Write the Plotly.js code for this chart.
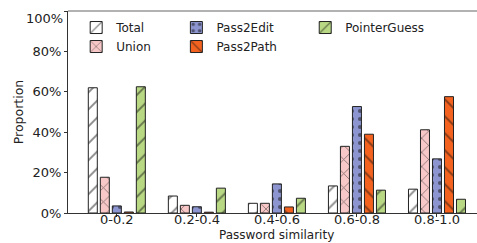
<!DOCTYPE html>
<html><head><meta charset="utf-8">
<script src="https://cdn.plot.ly/plotly-3.0.1.min.js"></script>
<style>html,body{margin:0;padding:0;background:#fff}#c{width:477px;height:243px}</style>
</head><body><div id="c"></div>
<script>
const categories = ["0-0.2", "0.2-0.4", "0.4-0.6", "0.6-0.8", "0.8-1.0"];
const total = [0.620, 0.084, 0.048, 0.134, 0.118];
const union = [0.177, 0.038, 0.048, 0.330, 0.412];
const pass2edit = [0.035, 0.031, 0.144, 0.527, 0.268];
const pass2path = [0.005, 0.004, 0.030, 0.390, 0.576];
const pointerGuess = [0.625, 0.123, 0.073, 0.113, 0.068];
const yTickVals = [0, 0.2, 0.4, 0.6, 0.8, 1.0];
const yTickText = ["0%", "20%", "40%", "60%", "80%", ""];

const font = {family: "DejaVu Sans", size: 12, color: "#222"};
function tr(name, y, color, shape, size, sol, legend, rank) {
  return {
    type: "bar", name: name, x: categories, y: y, legend: legend, legendrank: rank,
    marker: {color: color, line: {color: "#222", width: 1},
      pattern: {shape: shape, fgcolor: "#111", bgcolor: color, size: size, solidity: sol, fillmode: "overlay"}}
  };
}
const data = [
  tr("Total", total, "#ffffff", "/", 12, 0.16, "legend", 1),
  tr("Union", union, "#f8c8c8", "x", 10, 0.16, "legend", 2),
  tr("Pass2Edit", pass2edit, "#8c95cf", ".", 8, 0.22, "legend2", 1),
  tr("Pass2Path", pass2path, "#f4621f", "\\", 12, 0.16, "legend2", 2),
  tr("PointerGuess", pointerGuess, "#b8d884", "/", 12, 0.16, "legend3", 1)
];
const leg = (x) => ({x: x, y: 0.99, xanchor: "left", yanchor: "top", bgcolor: "rgba(0,0,0,0)", font: {family: "DejaVu Sans", size: 12, color: "#222"}, orientation: "v", tracegroupgap: 0});
const tickAnn = categories.map(c => ({text: c, xref: "x", yref: "paper", x: c, y: 0, xanchor: "center", yanchor: "top", yshift: 2, borderpad: 0, showarrow: false, font: {family: "DejaVu Sans", size: 13, color: "#222"}}));
const layout = {
  width: 477, height: 243,
  margin: {l: 68, r: 0, t: 11, b: 30},
  paper_bgcolor: "#fff", plot_bgcolor: "#fff",
  font: font,
  barmode: "group", bargap: 0.25, bargroupgap: 0.25,
  showlegend: true,
  legend: leg(0.02), legend2: leg(0.265), legend3: leg(0.58),
  xaxis: {type: "category", range: [-0.61, 4.5], showgrid: false, zeroline: false,
    showline: true, linecolor: "#333", linewidth: 1, ticks: "outside", ticklen: 3, tickcolor: "#333",
    showticklabels: false},
  yaxis: {range: [0, 1], showgrid: false, zeroline: false, tickvals: yTickVals, ticktext: yTickText,
    showline: true, linecolor: "#333", linewidth: 1, ticks: "outside", ticklen: 3, tickcolor: "#333",
    tickfont: {family: "DejaVu Sans", size: 13, color: "#222"},
    title: {text: "Proportion", font: {family: "DejaVu Sans", size: 12.5, color: "#222"}, standoff: 6}},
  shapes: [{type: "line", xref: "paper", yref: "paper", x0: 0, x1: 1, y0: 1, y1: 1, line: {color: "#999", width: 1.5}}],
  annotations: tickAnn.concat([
    {text: "100%", xref: "paper", yref: "paper", x: 0, y: 0.965, xanchor: "right", yanchor: "middle", xshift: -3, showarrow: false, font: {family: "DejaVu Sans", size: 13, color: "#222"}},
    {text: "Password similarity", xref: "paper", yref: "paper", x: 0.509, y: 0, xanchor: "center", yanchor: "bottom", yshift: -30, borderpad: 0, showarrow: false, font: {family: "DejaVu Sans", size: 12, color: "#222"}}
  ])
};
Plotly.newPlot("c", data, layout, {displayModeBar: false, staticPlot: true});
</script></body></html>
